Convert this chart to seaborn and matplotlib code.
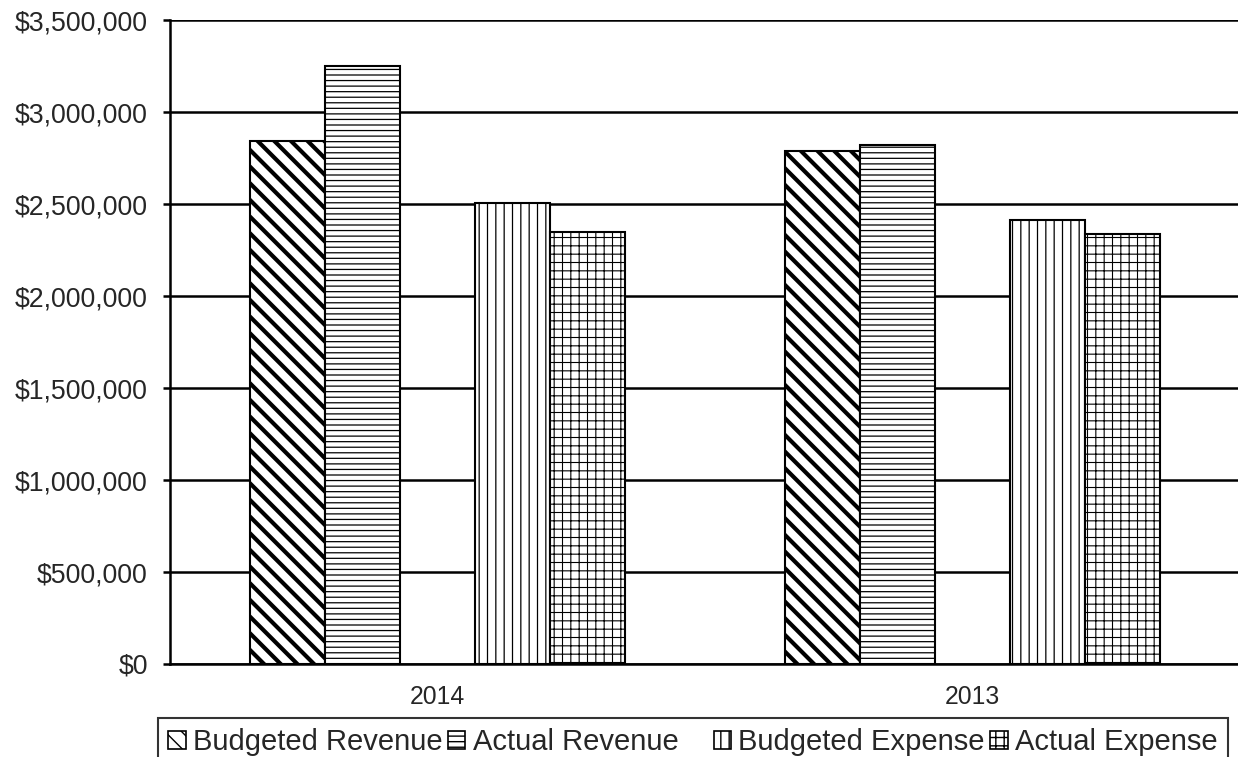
import matplotlib
matplotlib.use('Agg')
import matplotlib.pyplot as plt
from matplotlib.patches import Patch
from matplotlib.ticker import FuncFormatter, MultipleLocator
import seaborn as sns
import pandas as pd

years = ['2014', '2013']
series = ['Budgeted Revenue', 'Actual Revenue', ' ', 'Budgeted Expense', 'Actual Expense']
budgeted_revenue = [2840000, 2790000]
actual_revenue = [3248000, 2818000]
spacer = [0, 0]  # empty series in the original chart, leaves the gap
budgeted_expense = [2504000, 2414000]
actual_expense = [2350000, 2336000]

hatches = ['\\\\', '---', '', '||', '++']
hatch_lw = [3.0, 0.9, 0, 0.9, 0.8]

sns.set_style('white')
plt.rcParams['font.family'] = ['Liberation Sans', 'DejaVu Sans']
plt.rcParams['hatch.linewidth'] = 1.0

rows = []
for s, vals in zip(series, [budgeted_revenue, actual_revenue, spacer, budgeted_expense, actual_expense]):
    for y, v in zip(years, vals):
        rows.append({'year': y, 'series': s, 'value': v})
df = pd.DataFrame(rows)

fig = plt.figure(figsize=(12.38, 7.57), dpi=100)
ax = fig.add_axes([170 / 1238, 1 - 664 / 757, 1070 / 1238, 644 / 757])

sns.barplot(data=df, x='year', y='value', hue='series', order=years, hue_order=series,
            palette=['white'] * 5, edgecolor='black', linewidth=1.5, width=0.7,
            saturation=1, legend=False, ax=ax, zorder=3)

handles = []
for cont, h, lw, s in zip(ax.containers, hatches, hatch_lw, series):
    for bar in cont:
        if s == ' ':
            bar.set_visible(False)
            continue
        bar.set_hatch(h)
        if hasattr(bar, 'set_hatch_linewidth'):
            bar.set_hatch_linewidth(lw)
    hp = Patch(facecolor='white', edgecolor='black', hatch=h, linewidth=1.2, label=s)
    if hasattr(hp, 'set_hatch_linewidth'):
        hp.set_hatch_linewidth(min(lw, 1.6))
    if s == ' ':
        hp.set_visible(False)
        hp.set_label('')
    handles.append(hp)

ax.set_ylim(0, 3500000)
ax.set_xlim(-0.5, 1.5)
ax.yaxis.set_major_locator(MultipleLocator(500000))
ax.yaxis.set_major_formatter(FuncFormatter(lambda v, p: '${:,.0f}'.format(v)))
ax.grid(axis='y', color='black', linewidth=1.8, zorder=0)
ax.set_axisbelow(True)
ax.set_xlabel('')
ax.set_ylabel('')
for side in ['top', 'right']:
    ax.spines[side].set_visible(False)
for side in ['left', 'bottom']:
    ax.spines[side].set_color('black')
    ax.spines[side].set_linewidth(1.8)
    ax.spines[side].set_zorder(4)
ax.tick_params(axis='y', length=5, width=1.8, color='black', pad=11, labelsize=19.2, left=True)
ax.tick_params(axis='x', length=0, pad=15, labelsize=17.8)

leg = fig.legend(handles=handles, labels=[h.get_label() for h in handles], ncol=5,
                 loc='upper left', bbox_to_anchor=(158 / 1238, 1 - 718 / 757),
                 frameon=True, fancybox=False, fontsize=21, handlelength=0.6,
                 handleheight=0.6, handletextpad=0.25, columnspacing=0.18,
                 borderpad=0.35, borderaxespad=0)
leg.get_frame().set_edgecolor('black')
leg.get_frame().set_linewidth(1.5)

fig.savefig('out.png', dpi=100)
